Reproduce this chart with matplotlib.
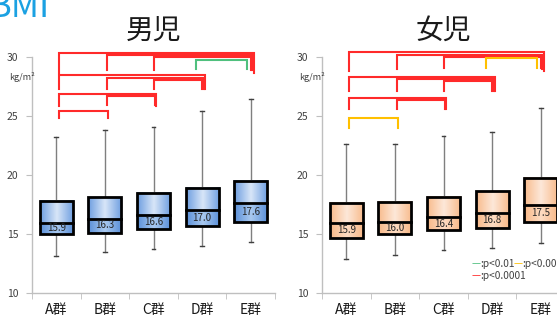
import matplotlib
matplotlib.use("Agg")
import matplotlib.pyplot as plt
import numpy as np
from matplotlib.colors import LinearSegmentedColormap
from matplotlib.patches import Rectangle

plt.rcParams['font.family'] = ['Noto Sans CJK JP', 'DejaVu Sans']

categories = ['A群', 'B群', 'C群', 'D群', 'E群']

# Boys
boy_low = [13.1, 13.45, 13.7, 14.0, 14.35]
boy_q1 = [15.0, 15.1, 15.4, 15.65, 16.0]
boy_med = [15.9, 16.3, 16.6, 17.0, 17.6]
boy_q3 = [17.8, 18.15, 18.5, 18.9, 19.5]
boy_high = [23.2, 23.85, 24.1, 25.45, 26.4]

# Girls
girl_low = [12.85, 13.2, 13.65, 13.85, 14.2]
girl_q1 = [14.7, 15.0, 15.3, 15.5, 16.0]
girl_med = [15.9, 16.0, 16.4, 16.8, 17.5]
girl_q3 = [17.65, 17.75, 18.15, 18.65, 19.75]
girl_high = [22.6, 22.6, 23.3, 23.65, 25.65]

# significance brackets: (group i, group j, level, bottom, significance)
boy_brackets = [
    (0, 4, 30.3, 28.65, 'p4'), (1, 4, 30.15, 28.9, 'p4'), (2, 4, 30.0, 28.9, 'p4'), (3, 4, 29.75, 28.95, 'p2'),
    (0, 3, 28.5, 27.25, 'p4'), (1, 3, 28.25, 27.25, 'p4'), (2, 3, 28.05, 27.25, 'p4'),
    (0, 2, 26.85, 25.85, 'p4'), (1, 2, 26.7, 25.95, 'p4'),
    (0, 1, 25.45, 24.8, 'p4'),
]
girl_brackets = [
    (0, 4, 30.4, 28.8, 'p4'), (1, 4, 30.17, 28.95, 'p4'), (2, 4, 29.97, 29.05, 'p4'), (3, 4, 29.88, 29.05, 'p3'),
    (0, 3, 28.28, 27.15, 'p4'), (1, 3, 28.14, 27.15, 'p4'), (2, 3, 27.97, 27.15, 'p4'),
    (0, 2, 26.5, 25.57, 'p4'), (1, 2, 26.36, 25.57, 'p4'),
    (0, 1, 24.8, 24.0, 'p3'),
]
sig_colors = {'p2': '#4fc07e', 'p3': '#ffc000', 'p4': '#ff2a2a'}

W, H = 557, 322
fig = plt.figure(figsize=(W / 100, H / 100), dpi=100)


def grad_cmap(edge, center):
    return LinearSegmentedColormap.from_list('g', [edge, center, edge])


left_off = [0.06, 0.04, 0.0, -0.12, 0.0]
right_off = [0.06, 0.03, 0.0, -0.08, 0.0]


def draw_panel(ax, low, q1, med, q3, high, brackets, upper_cols, lower_cols, title):
    bw = 0.68
    cap = 0.04
    cm_up = grad_cmap(*upper_cols)
    cm_lo = grad_cmap(*lower_cols)
    gradient = np.linspace(0, 1, 64).reshape(1, -1)
    for i in range(len(categories)):
        ax.plot([i, i], [q3[i], high[i]], color='#7f7f7f', lw=1.0, zorder=2)
        ax.plot([i, i], [low[i], q1[i]], color='#7f7f7f', lw=1.0, zorder=2)
        ax.plot([i - cap, i + cap], [high[i], high[i]], color='#404040', lw=1.0, zorder=2)
        ax.plot([i - cap, i + cap], [low[i], low[i]], color='#404040', lw=1.0, zorder=2)
        ax.imshow(gradient, cmap=cm_up, extent=(i - bw / 2, i + bw / 2, med[i], q3[i]),
                  aspect='auto', zorder=3, interpolation='bilinear')
        ax.imshow(gradient, cmap=cm_lo, extent=(i - bw / 2, i + bw / 2, q1[i], med[i]),
                  aspect='auto', zorder=3, interpolation='bilinear')
        ax.add_patch(Rectangle((i - bw / 2, q1[i]), bw, q3[i] - q1[i], fill=False,
                               edgecolor='black', lw=2.0, zorder=4))
        ax.plot([i - bw / 2, i + bw / 2], [med[i], med[i]], color='black', lw=2.0, zorder=4)
        ax.text(i, (med[i] + q1[i]) / 2 + 0.03, f'{med[i]:.1f}', ha='center', va='center',
                fontsize=7, color='#262626', zorder=5)
    for a, b, lev, bot, s in brackets:
        col = sig_colors[s]
        xa = a + left_off[a]
        xb = b + right_off[a]
        ax.plot([xa, xa, xb, xb], [bot, lev, lev, bot], color=col, lw=1.5,
                zorder=6, clip_on=False, solid_joinstyle='miter')
    ax.set_xlim(-0.5, 4.5)
    ax.set_ylim(10, 30)
    ax.set_yticks([10, 15, 20, 25, 30])
    ax.set_xticks(range(len(categories)))
    ax.set_xticklabels(categories, fontsize=10, color='#1a1a1a')
    ax.set_xticks(np.arange(-0.5, 5, 1.0), minor=True)
    ax.tick_params(axis='x', which='major', length=0, pad=7)
    ax.tick_params(axis='x', which='minor', length=4, color='#bfbfbf', direction='out')
    ax.tick_params(axis='y', length=4, color='#bfbfbf', labelsize=7.5, labelcolor='#404040', pad=6)
    for sp in ['top', 'right']:
        ax.spines[sp].set_visible(False)
    for sp in ['left', 'bottom']:
        ax.spines[sp].set_color('#bfbfbf')
        ax.spines[sp].set_linewidth(1.0)
    ax.set_facecolor('none')
    ax.text(-0.97, 28.3, 'kg/m²', fontsize=6.5, color='#404040', ha='left', va='center', clip_on=False)
    ax.set_title(title, fontsize=20, color='#1a1a1a', pad=13)


ax1 = fig.add_axes([32 / W, 29 / H, 243 / W, 236 / H])
draw_panel(ax1, boy_low, boy_q1, boy_med, boy_q3, boy_high, boy_brackets,
           ('#6e9ee0', '#d8e6f8'), ('#5a8fd8', '#a9c9ef'), '男児')

ax2 = fig.add_axes([322 / W, 29 / H, 243 / W, 236 / H])
draw_panel(ax2, girl_low, girl_q1, girl_med, girl_q3, girl_high, girl_brackets,
           ('#f8bb8c', '#fde8d9'), ('#f8b887', '#fddcc3'), '女児')


def ft(x, y, s, c, fs=7.3):
    fig.text(x / W, 1 - y / H, s, color=c, fontsize=fs, ha='left', va='center')


ft(472, 264, '—', sig_colors['p2'])
ft(480, 264, ':p<0.01', '#404040')
ft(514, 264, '—', sig_colors['p3'])
ft(522, 264, ':p<0.001', '#404040')
ft(472, 276, '—', sig_colors['p4'])
ft(480, 276, ':p<0.0001', '#404040')

fig.text(-11 / W, 1 - 17 / H, 'BMI', color='#1ba1e2', fontsize=25, ha='left', va='baseline')

fig.savefig('out.png', dpi=100)
